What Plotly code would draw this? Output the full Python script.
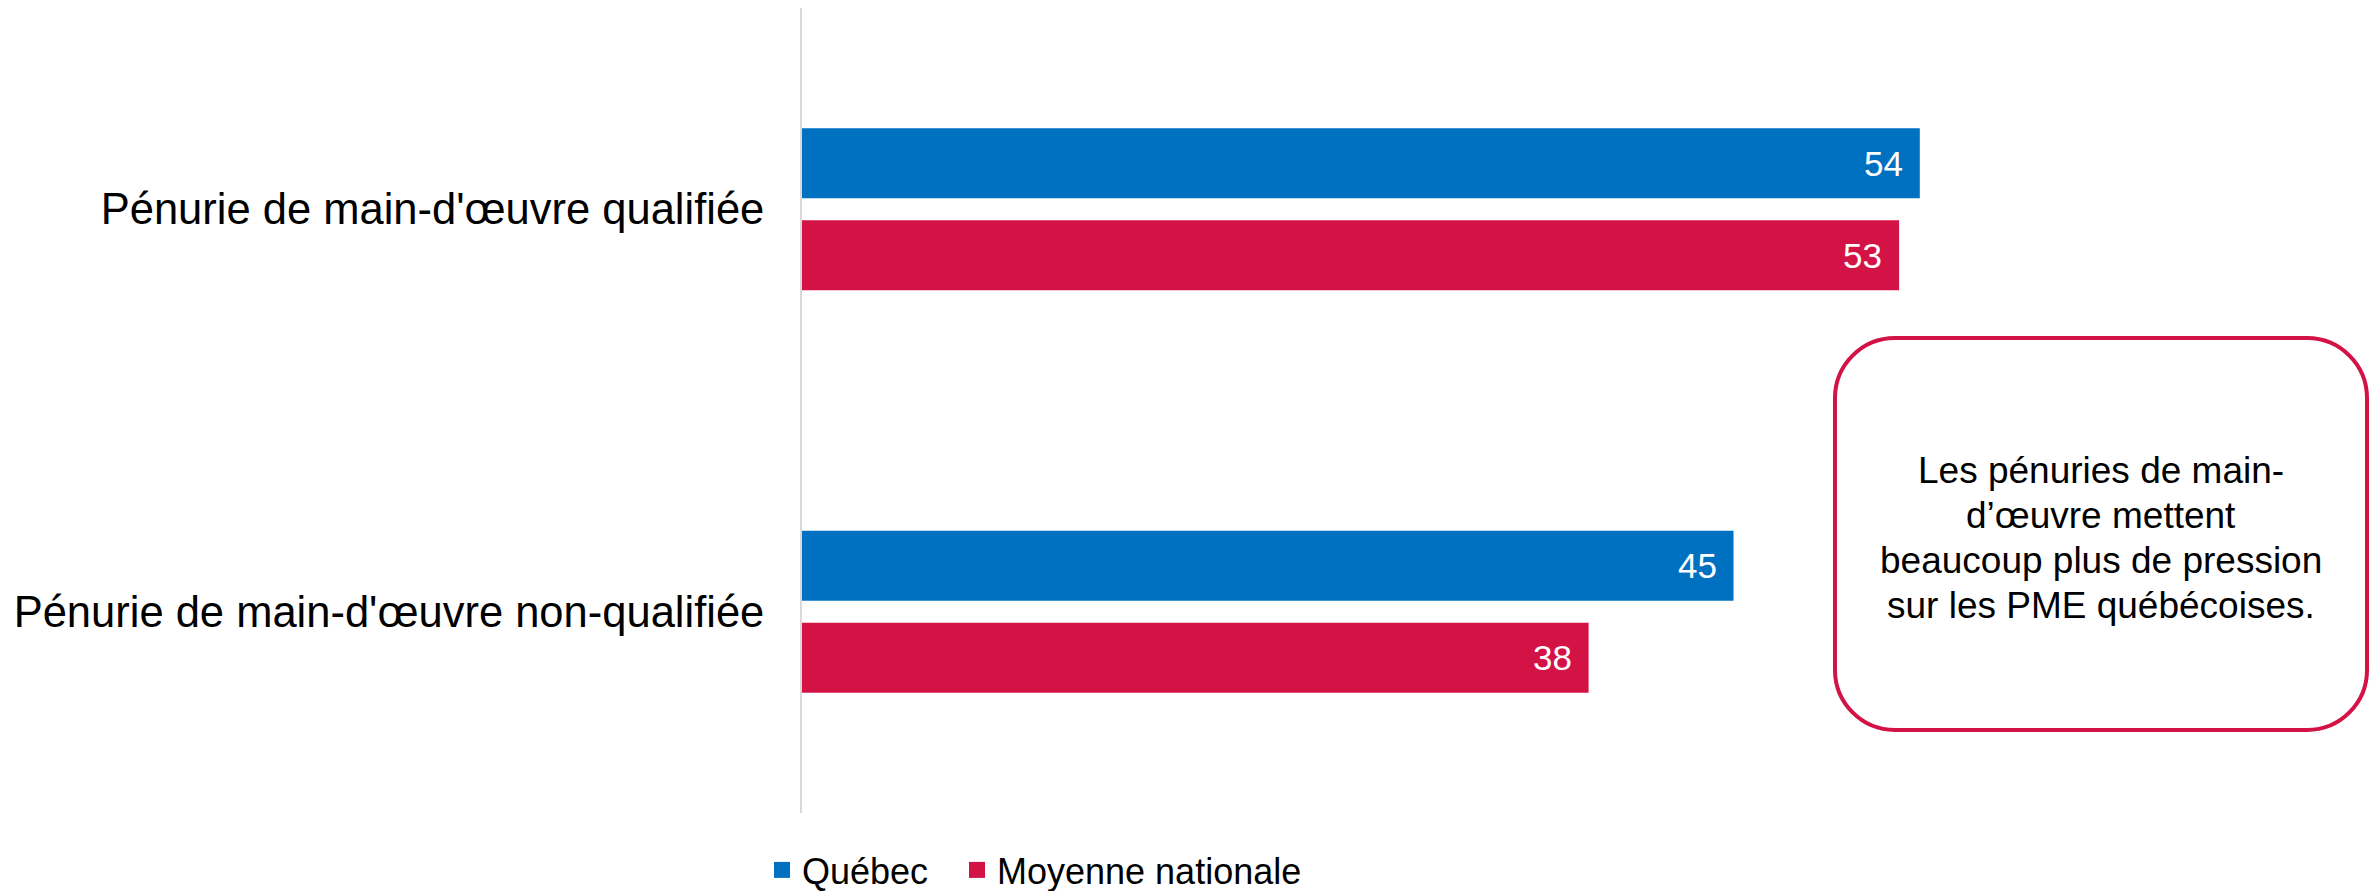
import plotly.graph_objects as go

categories = ["Pénurie de main-d'œuvre qualifiée", "Pénurie de main-d'œuvre non-qualifiée"]
series_names = ["Québec", "Moyenne nationale"]
quebec = [54, 45]
nationale = [53, 38]
colors = ["#0070C0", "#D31245"]
note_lines = ["Les pénuries de main-", "d’œuvre mettent", "beaucoup plus de pression", "sur les PME québécoises."]

OFF = 8  # page body margin
W, H = 2379 - OFF, 891 - OFF
ML, MT = 802 - OFF, 8 - OFF
MB = H - (813 - OFF)
MR = W - (2369 - OFF)
PW, PH = W - ML - MR, H - MT - MB
PX_PER_UNIT = 20.7
FONT = "Liberation Sans, Arial, sans-serif"

fig = go.Figure()
legend_ids = ["legend", "legend2"]
for name, vals, col in zip(series_names, [quebec, nationale], colors):
    fig.add_trace(go.Bar(
        y=categories, x=vals, name=name, orientation="h",
        marker=dict(color=col, line=dict(width=0)),
        hoverinfo="skip", showlegend=False,
    ))
# legend entries (square swatches)
for name, col, lg in zip(series_names, colors, legend_ids):
    fig.add_trace(go.Scatter(
        x=[None], y=[None], mode="markers", name=name, legend=lg,
        marker=dict(symbol="square", size=17, color=col, line=dict(width=0)),
        showlegend=True, hoverinfo="skip",
    ))

# value labels inside bar ends
for i, vals in enumerate([quebec, nationale]):
    for cat, v in zip(categories, vals):
        fig.add_annotation(
            x=v, y=cat, xref="x", yref="y", text=str(v), showarrow=False,
            xanchor="right", yanchor="middle", xshift=-15,
            yshift=46 if i == 0 else -46,
            font=dict(family=FONT, size=35, color="white"),
        )

def px_to_paper(px, py):
    # reference-screen pixels -> paper coords
    return (px - OFF - ML) / PW, (H - MB - (py - OFF)) / PH

# rounded callout box
bx0, bx1, by0, by1, r = 1835, 2367, 338, 730, 60
k = 0.5523 * r
def P(px, py):
    x, y = px_to_paper(px, py)
    return f"{x:.5f},{y:.5f}"
path = (
    f"M {P(bx0 + r, by0)} L {P(bx1 - r, by0)} "
    f"C {P(bx1 - r + k, by0)} {P(bx1, by0 + r - k)} {P(bx1, by0 + r)} "
    f"L {P(bx1, by1 - r)} "
    f"C {P(bx1, by1 - r + k)} {P(bx1 - r + k, by1)} {P(bx1 - r, by1)} "
    f"L {P(bx0 + r, by1)} "
    f"C {P(bx0 + r - k, by1)} {P(bx0, by1 - r + k)} {P(bx0, by1 - r)} "
    f"L {P(bx0, by0 + r)} "
    f"C {P(bx0, by0 + r - k)} {P(bx0 + r - k, by0)} {P(bx0 + r, by0)} Z"
)
fig.add_shape(type="path", path=path, xref="paper", yref="paper",
              line=dict(color="#D31245", width=4), fillcolor="rgba(0,0,0,0)")

line_y0 = 470
for j, line in enumerate(note_lines):
    tx, ty = px_to_paper((bx0 + bx1) / 2, line_y0 + 45 * j)
    fig.add_annotation(
        x=tx, y=ty, xref="paper", yref="paper", text=line,
        showarrow=False, align="center", xanchor="center", yanchor="middle",
        font=dict(family=FONT, size=37, color="black"),
    )

legend_style = dict(
    orientation="h", xref="container", yref="container", xanchor="left", yanchor="middle",
    font=dict(family=FONT, size=36, color="black"), bgcolor="rgba(0,0,0,0)",
)
leg_y = 1 - (870 - OFF) / H

fig.update_layout(
    width=W, height=H, autosize=False,
    margin=dict(l=ML, r=MR, t=MT, b=MB),
    paper_bgcolor="white", plot_bgcolor="white",
    barmode="group", bargap=0.543, bargroupgap=0.239,
    font=dict(family=FONT, color="black"),
    showlegend=True,
    legend=dict(x=(762 - OFF) / W, y=leg_y, **legend_style),
    legend2=dict(x=(957 - OFF) / W, y=leg_y, **legend_style),
    xaxis=dict(range=[0, PW / PX_PER_UNIT], visible=False, showgrid=False, zeroline=False),
    yaxis=dict(
        type="category", range=[1.5, -0.5], showline=True, linecolor="#D9D9D9", linewidth=2,
        showgrid=False, zeroline=False, ticks="", automargin=False,
        tickfont=dict(family=FONT, size=43.5, color="black"),
        ticklabelstandoff=27,
    ),
)

fig.write_html("out.html")
